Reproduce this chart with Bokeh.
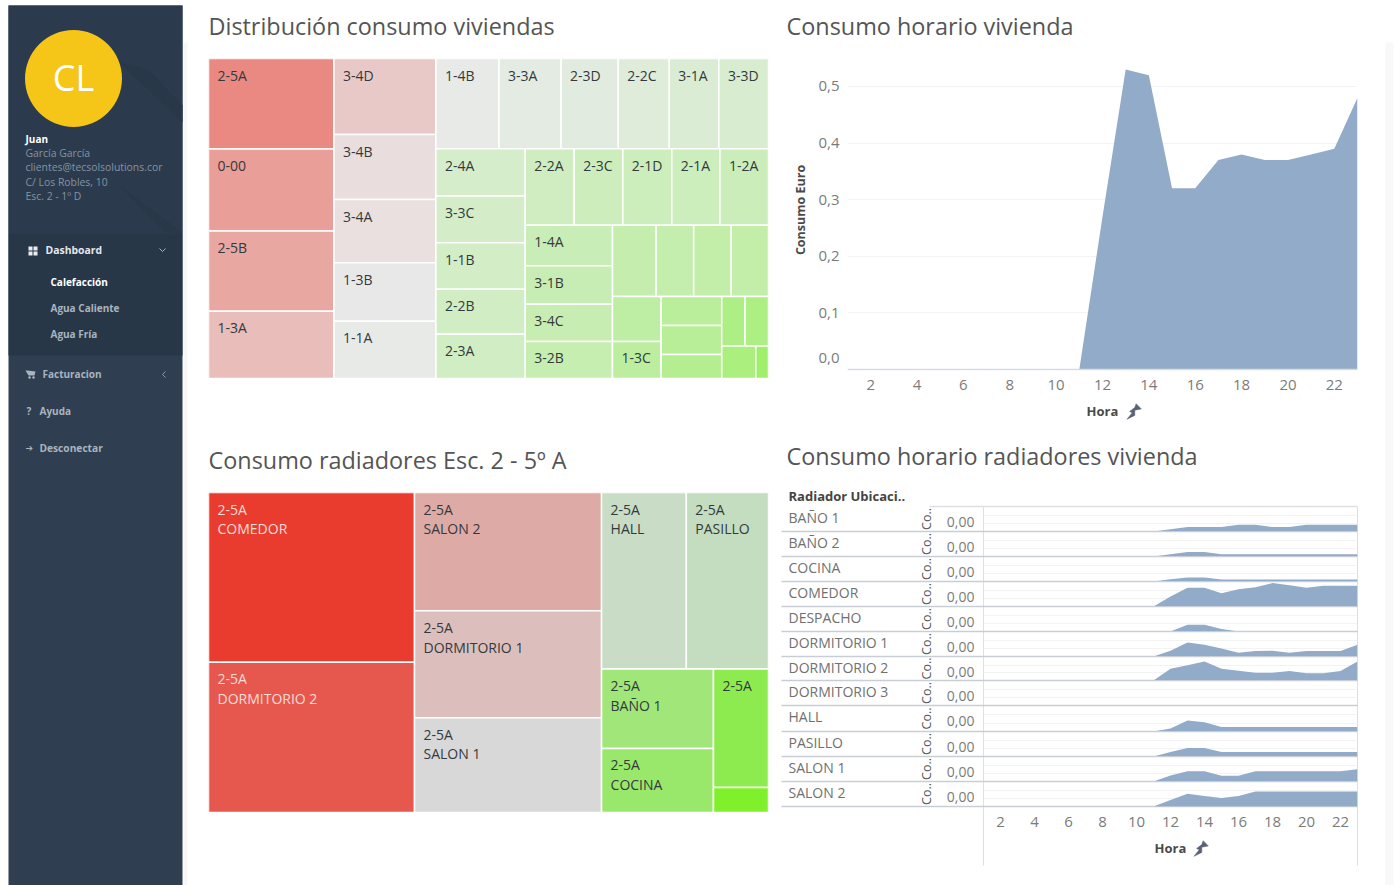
from bokeh.embed import file_html
from bokeh.resources import INLINE
from bokeh.core.properties import value
from bokeh.models import ColumnDataSource, FixedTicker, Range1d, Span, LinearColorMapper
from bokeh.layouts import column
from bokeh.plotting import figure

FONT = "Open Sans"

# ---- Treemap: consumption per dwelling -------------------------------------
VIV_LABELS = ["2-5A", "0-00", "2-5B", "1-3A",
              "3-4D", "3-4B", "3-4A", "1-3B", "1-1A",
              "1-4B", "3-3A", "2-3D", "2-2C", "3-1A", "3-3D",
              "2-4A", "3-3C", "1-1B", "2-2B", "2-3A",
              "2-2A", "2-3C", "2-1D", "2-1A", "1-2A",
              "1-4A", "3-1B", "3-4C", "3-2B",
              "", "", "", "",
              "", "1-3C",
              "", "", "",
              "", "", "", ""]
VIV_CONSUMO = [112.8, 102.4, 100.2, 84.0,
               77.1, 65.9, 64.1, 59.4, 58.0,
               56.7, 55.8, 51.3, 45.9, 44.6, 44.6,
               41.8, 41.6, 41.2, 40.1, 39.2,
               37.2, 36.9, 37.2, 36.5, 36.9,
               35.2, 33.5, 32.2, 32.2,
               30.9, 26.6, 26.6, 26.4,
               21.8, 17.9,
               17.5, 17.5, 14.5,
               11.5, 11.6, 11.0, 4.1]
VIV_INDICE = [0.55, 0.43, 0.38, 0.25,
              0.18, 0.07, 0.05, 0.0, -0.01,
              -0.02, -0.04, -0.07, -0.10, -0.13, -0.16,
              -0.19, -0.20, -0.21, -0.22, -0.23,
              -0.25, -0.26, -0.27, -0.27, -0.28,
              -0.30, -0.31, -0.32, -0.33,
              -0.34, -0.35, -0.36, -0.37,
              -0.40, -0.42,
              -0.44, -0.46, -0.50,
              -0.55, -0.56, -0.58, -0.68]
VIV_SPLITS = ("h", ("v", 4), ("v", 5),
              ("v", ("h", 6),
                    ("h", ("v", 5),
                          ("v", ("h", 5),
                                ("h", ("v", 4),
                                      ("v", ("h", 4),
                                            ("h", ("v", 2), ("v", 3),
                                                  ("v", ("h", 2), ("h", 2)))))))))

# ---- Treemap: radiators of one dwelling ------------------------------------
RAD_LABELS = ["2-5A\nCOMEDOR", "2-5A\nDORMITORIO 2",
              "2-5A\nSALON 2", "2-5A\nDORMITORIO 1", "2-5A\nSALON 1",
              "2-5A\nHALL", "2-5A\nPASILLO",
              "2-5A\nBAÑO 1", "2-5A\nCOCINA",
              "2-5A", ""]
RAD_CONSUMO = [347.5, 307.2, 219.7, 198.5, 176.2, 148.6, 144.1, 88.2, 71.2, 64.7, 13.7]
RAD_INDICE = [1.0, 0.82, 0.30, 0.165, 0.0, -0.18, -0.23, -0.63, -0.70, -0.83, -1.0]
RAD_SPLITS = ("h", ("v", 2), ("v", 3),
              ("v", ("h", 2), ("h", ("v", 2), ("v", 2))))

# ---- Hourly consumption ----------------------------------------------------
HORAS = list(range(1, 24))
CONSUMO_EURO = [0, 0, 0, 0, 0, 0, 0, 0, 0, 0, 0, 0.27, 0.53, 0.52, 0.32, 0.32,
                0.37, 0.38, 0.37, 0.37, 0.38, 0.39, 0.48]
HORA_TICKS = list(range(2, 23, 2))
EURO_TICKS = [0.1, 0.2, 0.3, 0.4, 0.5]

RADIADORES = ["BAÑO 1", "BAÑO 2", "COCINA", "COMEDOR", "DESPACHO", "DORMITORIO 1",
              "DORMITORIO 2", "DORMITORIO 3", "HALL", "PASILLO", "SALON 1", "SALON 2"]
ZEROS = [0] * 10
BANO_1 = ZEROS + [0, 0.011, 0.022, 0.022, 0.022, 0.034, 0.034, 0.022, 0.022, 0.034, 0.034, 0.034, 0.034]
BANO_2 = ZEROS + [0, 0.011, 0.022, 0.022, 0.011, 0.011, 0.011, 0.011, 0.011, 0.011, 0.011, 0.011, 0.011]
COCINA = ZEROS + [0, 0.011, 0.020, 0.020, 0.010, 0.010, 0.010, 0.010, 0.010, 0.010, 0.010, 0.010, 0.010]
COMEDOR = ZEROS + [0, 0.050, 0.094, 0.094, 0.066, 0.086, 0.096, 0.117, 0.106, 0.094, 0.104, 0.104, 0.104]
DESPACHO = ZEROS + [0, 0, 0.034, 0.034, 0.013, 0, 0, 0, 0, 0, 0, 0, 0]
DORMITORIO_1 = ZEROS + [0, 0.029, 0.070, 0.059, 0.040, 0.019, 0.027, 0.029, 0.019, 0.027, 0.027, 0.027, 0.059]
DORMITORIO_2 = ZEROS + [0, 0.061, 0.080, 0.099, 0.061, 0.051, 0.040, 0.040, 0.050, 0.038, 0.038, 0.050, 0.099]
DORMITORIO_3 = ZEROS + [0] * 13
HALL = ZEROS + [0, 0.014, 0.053, 0.045, 0.022, 0.022, 0.022, 0.022, 0.022, 0.022, 0.022, 0.022, 0.022]
PASILLO = ZEROS + [0, 0.022, 0.043, 0.043, 0.022, 0.022, 0.022, 0.022, 0.022, 0.022, 0.022, 0.022, 0.022]
SALON_1 = ZEROS + [0, 0.030, 0.051, 0.051, 0.029, 0.029, 0.051, 0.051, 0.051, 0.051, 0.051, 0.051, 0.061]
SALON_2 = ZEROS + [0, 0.032, 0.064, 0.053, 0.043, 0.053, 0.075, 0.075, 0.075, 0.075, 0.075, 0.075, 0.075]
SERIES_RADIADORES = [BANO_1, BANO_2, COCINA, COMEDOR, DESPACHO, DORMITORIO_1, DORMITORIO_2,
                     DORMITORIO_3, HALL, PASILLO, SALON_1, SALON_2]

# ---- Sidebar content -------------------------------------------------------
USUARIO = ["García García", "clientes@tecsolsolutions.cor", "C/ Los Robles, 10", "Esc. 2 - 1º D"]

AREA_COLOR = "#92abc8"
TICK_COLOR = "#7b7b7b"
RED_END, GREEN_END = (233, 60, 46), (127, 240, 42)


def panel(x0, y0, x1, y1, pad_b=0, **kw):
    """Figure whose plotting frame covers the page box (x0, y0)-(x1, y1).

    The side borders are wide so the frame keeps its exact size and place.
    """
    pad_l, pad_r = 100, 14
    return figure(frame_width=x1 - x0, frame_height=y1 - y0,
                  width=x1 - x0 + pad_l + pad_r, height=y1 - y0 + pad_b,
                  min_border_left=pad_l, min_border_right=pad_r,
                  min_border_top=0, min_border_bottom=pad_b,
                  toolbar_location=None, output_backend="svg",
                  background_fill_color=None, border_fill_color=None,
                  outline_line_color=None,
                  styles={"position": "absolute", "left": f"{x0 - pad_l - 1}px", "top": f"{y0}px"},
                  **kw)


def diverging_palette(mid, green_gamma, blue_gamma, n=256):
    """Green -> mid grey -> red palette, low index = green."""
    out = []
    for i in range(n):
        t = i / (n - 1) * 2 - 1
        a = abs(t)
        if t > 0:
            rgb = [m + (e - m) * a for m, e in zip(mid, RED_END)]
        else:
            rgb = [mid[0] + (GREEN_END[0] - mid[0]) * a,
                   mid[1] + (GREEN_END[1] - mid[1]) * a ** green_gamma,
                   mid[2] + (GREEN_END[2] - mid[2]) * a ** blue_gamma]
        out.append("#%02x%02x%02x" % tuple(round(c) for c in rgb))
    return out


def slice_layout(spec, weights):
    """Slice-and-dice treemap in the unit square; returns one box per leaf."""
    pos = [0]

    def total(node):
        if isinstance(node[1], int):
            part = sum(weights[pos[0]:pos[0] + node[1]])
            pos[0] += node[1]
            return {"dir": node[0], "w": part, "kids": None, "n": node[1]}
        kids = [total(k) for k in node[1:]]
        return {"dir": node[0], "w": sum(k["w"] for k in kids), "kids": kids}

    tree = total(spec)
    boxes = []
    pos[0] = 0

    def place(node, l, t, r, b):
        horizontal = node["dir"] == "h"
        span = r - l if horizontal else b - t
        cursor = l if horizontal else t
        if node["kids"] is None:
            parts = weights[pos[0]:pos[0] + node["n"]]
            pos[0] += node["n"]
            for w in parts:
                step = span * w / node["w"]
                if horizontal:
                    boxes.append((cursor, t, cursor + step, b))
                else:
                    boxes.append((l, cursor, r, cursor + step))
                cursor += step
            return
        for k in node["kids"]:
            step = span * k["w"] / node["w"]
            if horizontal:
                place(k, cursor, t, cursor + step, b)
            else:
                place(k, l, cursor, r, cursor + step)
            cursor += step

    place(tree, 0.0, 0.0, 1.0, 1.0)
    return boxes


def treemap(box, labels, sizes, indices, splits, palette):
    fig = panel(*box, x_range=Range1d(0, 1), y_range=Range1d(1, 0),
                x_axis_location=None, y_axis_location=None)
    fig.grid.visible = False
    cells = slice_layout(splits, sizes)
    # Labels made only of digits are measured from a lower top line, so push them down.
    offsets = [7 if any(ch.isalpha() for ch in s) else 12 for s in labels]
    src = ColumnDataSource(dict(
        l=[c[0] for c in cells], t=[c[1] for c in cells],
        r=[c[2] for c in cells], b=[c[3] for c in cells],
        name=labels, indice=indices, dy=offsets,
        ink=["#f6dcd8" if i > 0.7 else "#333a3d" for i in indices]))
    mapper = LinearColorMapper(palette=palette, low=-1, high=1)
    fig.quad(left="l", right="r", top="t", bottom="b", source=src,
             fill_color={"field": "indice", "transform": mapper},
             line_color="#ffffff", line_width=1.5)
    fig.text(x="l", y="t", text="name", source=src, x_offset=9, y_offset="dy",
             text_font=value(FONT), text_font_size="14px", text_color="ink",
             text_baseline="top", text_align="left", text_line_height=1.04)
    return fig


# ---- Page backdrop, split in two sheets: sidebar and titles, table furniture -
SHEET_SPLIT = 775
sheet_left = panel(0, 0, SHEET_SPLIT, 885, x_range=Range1d(0, SHEET_SPLIT), y_range=Range1d(885, 0),
                   x_axis_location=None, y_axis_location=None)
sheet_right = panel(SHEET_SPLIT, 0, 1394, 885, x_range=Range1d(SHEET_SPLIT, 1394), y_range=Range1d(885, 0),
                    x_axis_location=None, y_axis_location=None)
sheet_left.grid.visible = False
sheet_right.grid.visible = False


def put(x, y, text, size=11, color="#ffffff", style="normal", align="left", angle=0.0, font=FONT):
    sheet = sheet_left if x < SHEET_SPLIT else sheet_right
    sheet.text(x=[x], y=[y], text=[text], text_font=value(font), text_font_size=f"{size}px",
               text_color=color, text_font_style=style, text_align=align,
               text_baseline="middle", angle=angle)


def pin(cx, cy):
    """Small tilted pushpin beside an axis title."""
    k = 1.3
    sheet_right.patch(x=[cx + k * d for d in (-3, 1, 2, 6, 1, 1, -5, -1)],
                      y=[cy + k * d for d in (0, -3, -6, -2, -1, 3, 6, 1)],
                      fill_color="#5b6273", line_color="#5b6273", line_width=0.5)


page = sheet_left
page.quad(left=[184], right=[188], top=[42], bottom=[885], fill_color="#f7f7f7", line_color=None)
sheet_right.quad(left=[1386], right=[1394], top=[42], bottom=[885], fill_color="#f8f8f8", line_color=None)
page.quad(left=[9], right=[183], top=[5], bottom=[885], fill_color="#2f3f51", line_color=None)
page.quad(left=[9], right=[183], top=[5], bottom=[233], fill_color="#2b3b4d", line_color=None)
page.quad(left=[9], right=[183], top=[233], bottom=[355], fill_color="#283748", line_color=None)
page.patch(x=[118, 183, 183, 150], y=[60, 122, 105, 70], fill_color="#293849", line_color=None)
page.patch(x=[120, 183, 165], y=[185, 232, 232], fill_color="#293849", line_color=None)
page.scatter(x=[74], y=[78], size=97, marker="circle", fill_color="#f5c518", line_color=None)
put(74, 77, "CL", size=36, align="center")

put(26, 138, "Juan", style="bold", size=10)
for i, line in enumerate(USUARIO):
    put(26, 152 + i * 14.6, line, color="#8593a1", size=10.4)

page.quad(left=[29, 34, 29, 34], right=[33, 38, 33, 38], top=[246, 246, 251, 251],
          bottom=[250, 250, 255, 255], fill_color="#e8ecef", line_color=None)
put(46, 249, "Dashboard", color="#e3e7ea", style="bold", size=10.4)
page.line(x=[160, 163, 166], y=[248, 251, 248], line_color="#aab3bc", line_width=1)
put(51, 281, "Calefacción", color="#ffffff", style="bold", size=10)
put(51, 307, "Agua Caliente", color="#a9b4be", style="bold", size=10)
put(51, 333, "Agua Fría", color="#a9b4be", style="bold", size=10)
page.patch(x=[26, 28, 36, 35, 29], y=[370, 370, 371, 375, 375], fill_color="#a9b4be", line_color=None)
page.scatter(x=[30, 34], y=[377, 377], size=2.5, marker="circle", fill_color="#a9b4be", line_color=None)
put(43, 373, "Facturacion", color="#a9b4be", style="bold", size=10)
page.line(x=[166, 163, 166], y=[371, 374, 377], line_color="#8f9aa5", line_width=1)
put(27, 410, "?", color="#a9b4be", style="bold", size=10)
put(40, 410, "Ayuda", color="#a9b4be", style="bold", size=10)
put(26, 447, "➔", size=9, color="#a9b4be", font="DejaVu Sans")
put(40, 447, "Desconectar", color="#a9b4be", style="bold", size=10.2)

put(209, 25, "Distribución consumo viviendas", size=23.4, color="#555555")
put(787, 25, "Consumo horario vivienda", size=23.4, color="#555555")
put(209, 459, "Consumo radiadores Esc. 2 - 5º A", size=23.4, color="#555555")
put(787, 455, "Consumo horario radiadores vivienda", size=23.4, color="#555555")

# Row grid of the small-multiple table
ROW_EDGES = [506, 531, 556, 581, 606, 631, 656, 680, 705, 731, 756, 781, 806]
put(789, 495, "Radiador Ubicaci..", size=13, color="#444444", style="bold")
sheet_right.segment(x0=[984, 1358], y0=[506, 506], x1=[984, 1358], y1=[865, 865],
                    line_color="#dcdfe3", line_width=1)
sheet_right.segment(x0=[930], y0=[506], x1=[1358], y1=[506], line_color="#dcdfe3", line_width=1.5)
for i, name in enumerate(RADIADORES):
    top, bottom = ROW_EDGES[i], ROW_EDGES[i + 1]
    sheet_right.segment(x0=[782], y0=[bottom], x1=[1358], y1=[bottom], line_color="#c9ced6", line_width=1.5)
    put(789, top + 11, name, size=14, color="#707070")
    put(927, (top + bottom) / 2, "Co..", size=12.5, color="#555555", angle=1.5708, align="center")
    put(975, top + 15, "0,00", size=14, color=TICK_COLOR, align="right")

put(840, 357, "0,0", size=15, color=TICK_COLOR, align="right")
put(801, 209.5, "Consumo Euro", size=12.5, color="#4a4a4a", style="bold", angle=1.5708, align="center")
pin(1134, 411)
pin(1201, 848)

# ---- Treemaps ---------------------------------------------------------------
viviendas = treemap((209, 58, 769, 378), VIV_LABELS, VIV_CONSUMO, VIV_INDICE, VIV_SPLITS,
                    diverging_palette((233, 233, 233), 0.4, 1.1))
radiadores = treemap((209, 492, 769, 812), RAD_LABELS, RAD_CONSUMO, RAD_INDICE, RAD_SPLITS,
                     diverging_palette((217, 217, 217), 1.3, 1.3))

# ---- Hourly area chart ------------------------------------------------------
horario = panel(848, 59, 1358, 370, pad_b=56,
                x_range=Range1d(1, 23), y_range=Range1d(-0.0018, 0.5477))
horario.varea(x=HORAS, y1=[0] * len(HORAS), y2=CONSUMO_EURO, fill_color=AREA_COLOR)
horario.add_layout(Span(location=0, dimension="width", line_color="#d3d9e6", line_width=1.5))
horario.xgrid.visible = False
horario.ygrid.ticker = FixedTicker(ticks=EURO_TICKS)
horario.ygrid.grid_line_color = "#f3f3f3"
horario.xaxis.ticker = FixedTicker(ticks=HORA_TICKS)
horario.xaxis.axis_label = "Hora"
horario.yaxis.ticker = FixedTicker(ticks=EURO_TICKS)
horario.yaxis.major_label_overrides = {t: f"{t:.1f}".replace(".", ",") for t in EURO_TICKS}
horario.xaxis.major_label_standoff = 3
horario.yaxis.major_label_standoff = 2
horario.xaxis.axis_label_standoff = 9
for ax in (horario.xaxis[0], horario.yaxis[0]):
    ax.axis_line_color = None
    ax.major_tick_line_color = None
    ax.minor_tick_line_color = None
    ax.major_label_text_font = FONT
    ax.major_label_text_font_size = "15px"
    ax.major_label_text_color = TICK_COLOR
    ax.axis_label_text_font = FONT
    ax.axis_label_text_font_size = "13px"
    ax.axis_label_text_font_style = "bold"
    ax.axis_label_text_color = "#4a4a4a"

# ---- Per-radiator small multiples ------------------------------------------
filas = []
for i, serie in enumerate(SERIES_RADIADORES):
    last = i == len(SERIES_RADIADORES) - 1
    fila = panel(984, ROW_EDGES[i], 1358, ROW_EDGES[i + 1], pad_b=58 if last else 0,
                 x_range=Range1d(1, 23), y_range=Range1d(0, 0.125),
                 x_axis_location="below" if last else None, y_axis_location=None)
    fila.varea(x=HORAS, y1=[0] * len(HORAS), y2=serie, fill_color=AREA_COLOR)
    fila.xgrid.visible = False
    fila.ygrid.ticker = FixedTicker(ticks=[0.04, 0.08])
    fila.ygrid.grid_line_color = "#f3f3f3"
    if last:
        ax = fila.xaxis[0]
        ax.ticker = FixedTicker(ticks=HORA_TICKS)
        ax.axis_label = "Hora"
        ax.axis_line_color = None
        ax.major_tick_line_color = None
        ax.minor_tick_line_color = None
        ax.major_label_standoff = 4
        ax.axis_label_standoff = 9
        ax.major_label_text_font = FONT
        ax.major_label_text_font_size = "15px"
        ax.major_label_text_color = TICK_COLOR
        ax.axis_label_text_font = FONT
        ax.axis_label_text_font_size = "13px"
        ax.axis_label_text_font_style = "bold"
        ax.axis_label_text_color = "#4a4a4a"
    filas.append(fila)

root = column(sheet_left, sheet_right, viviendas, radiadores, horario, *filas, width=1394, height=885,
              styles={"position": "relative", "overflow": "hidden", "background": "#ffffff"})
open("out.html", "w").write(file_html(root, INLINE))
